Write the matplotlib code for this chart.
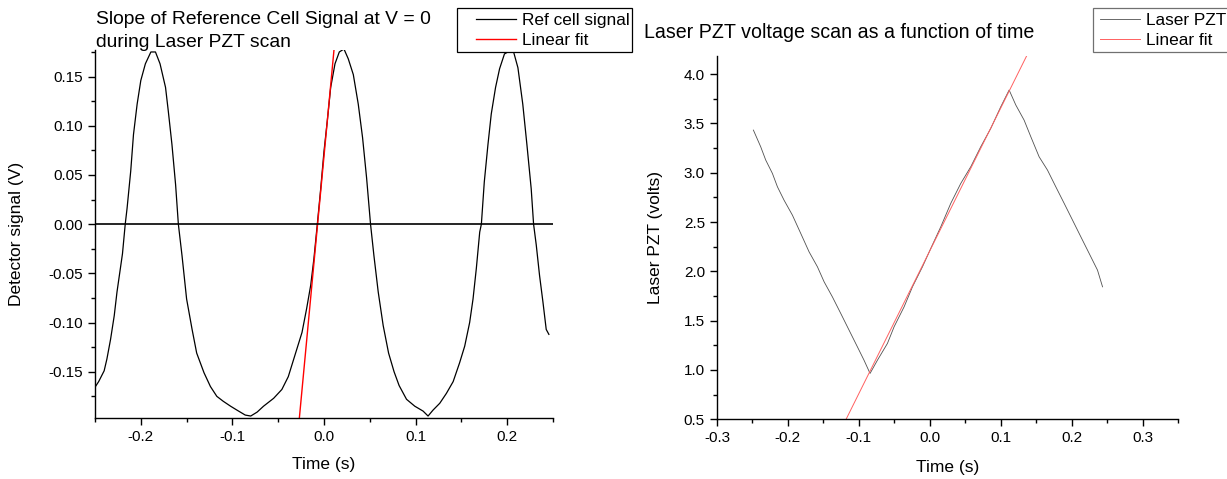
import matplotlib
matplotlib.use("Agg")
import matplotlib.pyplot as plt
from matplotlib.patches import Rectangle
from matplotlib.ticker import MultipleLocator

plt.rcParams['font.family'] = ['Liberation Sans', 'DejaVu Sans']

# reference cell signal
ref_t = [-0.2495, -0.246, -0.240, -0.237, -0.233, -0.229, -0.226, -0.220, -0.217, -0.215,
         -0.211, -0.208, -0.204, -0.200, -0.195, -0.189, -0.184, -0.179, -0.173, -0.170,
         -0.166, -0.162, -0.159, -0.155, -0.150, -0.144, -0.139, -0.131, -0.124, -0.117,
         -0.110, -0.102, -0.095, -0.086, -0.080, -0.073, -0.066, -0.055, -0.046, -0.039,
         -0.032, -0.024, -0.019, -0.0145, -0.011, -0.0073, -0.0036, 0.000, 0.0036, 0.0073,
         0.012, 0.0167, 0.0218, 0.0265, 0.032, 0.0374, 0.0421, 0.0465, 0.0508, 0.0545,
         0.0592, 0.0646, 0.0705, 0.0765, 0.082, 0.0901, 0.0991, 0.1082, 0.1136, 0.119,
         0.1264, 0.1336, 0.141, 0.148, 0.1536, 0.159, 0.1627, 0.1663, 0.1700, 0.1718,
         0.175, 0.179, 0.1826, 0.1873, 0.1917, 0.197, 0.2026, 0.207, 0.2117, 0.217,
         0.2215, 0.2262, 0.2288, 0.2317, 0.2353, 0.239, 0.2426, 0.2455]
ref_v = [-0.165, -0.160, -0.149, -0.137, -0.117, -0.093, -0.069, -0.030, 0.000, 0.016,
         0.054, 0.091, 0.122, 0.146, 0.163, 0.175, 0.175, 0.163, 0.139, 0.115,
         0.081, 0.040, 0.000, -0.032, -0.076, -0.107, -0.131, -0.151, -0.165, -0.175,
         -0.180, -0.185, -0.189, -0.194, -0.195, -0.191, -0.185, -0.177, -0.168, -0.155,
         -0.134, -0.110, -0.086, -0.062, -0.035, 0.000, 0.036, 0.074, 0.105, 0.139,
         0.163, 0.175, 0.178, 0.168, 0.152, 0.122, 0.088, 0.047, 0.000, -0.032,
         -0.069, -0.103, -0.131, -0.150, -0.164, -0.178, -0.185, -0.190, -0.195, -0.189,
         -0.182, -0.172, -0.160, -0.141, -0.124, -0.100, -0.076, -0.045, -0.008, 0.000,
         0.043, 0.081, 0.112, 0.139, 0.158, 0.173, 0.176, 0.175, 0.159, 0.122,
         0.081, 0.036, 0.000, -0.021, -0.052, -0.079, -0.107, -0.112]
ref_fit_t = [-0.0269, 0.0113]
ref_fit_v = [-0.197, 0.181]

# laser PZT voltage
pzt_t = [-0.2487, -0.2384, -0.2313, -0.2219, -0.2148, -0.2055, -0.1937, -0.1819, -0.1702, -0.1584,
         -0.1490, -0.1373, -0.1255, -0.1138, -0.1020, -0.0927, -0.0842, -0.0738, -0.0597, -0.0503,
         -0.0362, -0.0244, -0.0103, 0.0014, 0.0155, 0.0296, 0.0437, 0.0578, 0.0719, 0.0860,
         0.1001, 0.1119, 0.1213, 0.1330, 0.1425, 0.1542, 0.1660, 0.1777, 0.1895, 0.2013,
         0.2130, 0.2247, 0.2365, 0.2436]
pzt_v = [3.432, 3.263, 3.128, 2.993, 2.857, 2.722, 2.570, 2.384, 2.198, 2.046,
         1.894, 1.741, 1.573, 1.404, 1.234, 1.099, 0.965, 1.099, 1.269, 1.438,
         1.640, 1.843, 2.046, 2.232, 2.451, 2.689, 2.891, 3.060, 3.263, 3.449,
         3.668, 3.838, 3.686, 3.533, 3.364, 3.161, 3.026, 2.857, 2.689, 2.519,
         2.350, 2.182, 2.012, 1.843]
pzt_fit_t = [-0.118, 0.137]
pzt_fit_v = [0.5, 4.19]

W, H = 1227, 479
fig = plt.figure(figsize=(W / 100, H / 100), dpi=100)


def style(ax):
    for s in ('top', 'right'):
        ax.spines[s].set_visible(False)
    for s in ('left', 'bottom'):
        ax.spines[s].set_linewidth(1.0)
    ax.tick_params(which='major', direction='out', length=4.7, width=1.0, labelsize=11, pad=4)
    ax.tick_params(which='minor', direction='out', length=3.0, width=1.0)


def legend_box(ax, x0, x1, hx, edge):
    # frame drawn by hand so the padding matches the original
    fig.patches.append(Rectangle((x0 / W, 1 - 52 / H), (x1 - x0) / W, 44 / H,
                                 transform=fig.transFigure, fill=True, facecolor='white',
                                 edgecolor=edge, lw=0.9, zorder=5))
    leg = fig.legend(*ax.get_legend_handles_labels(), loc='upper left',
                     bbox_to_anchor=(hx / W, 1 - 12.5 / H), fontsize=12.4, frameon=False,
                     borderpad=0, labelspacing=0.3, handlelength=2.3, handletextpad=0.35,
                     borderaxespad=0)
    leg.set_zorder(6)


# left panel
ax1 = fig.add_axes([95 / W, 1 - 418 / H, 458 / W, 368 / H])
ax1.plot(ref_t, ref_v, color='black', lw=0.9, label='Ref cell signal')
ax1.plot(ref_fit_t, ref_fit_v, color='#ff0000', lw=1.0, label='Linear fit')
ax1.axhline(0, color='black', lw=1.2)
ax1.set_xlim(-0.25, 0.25)
ax1.set_ylim(-0.197, 0.177)
ax1.xaxis.set_major_locator(MultipleLocator(0.1))
ax1.xaxis.set_minor_locator(MultipleLocator(0.05))
ax1.yaxis.set_major_locator(MultipleLocator(0.05))
ax1.yaxis.set_minor_locator(MultipleLocator(0.025))
ax1.xaxis.set_major_formatter(plt.FuncFormatter(lambda v, p: '%.1f' % v))
ax1.yaxis.set_major_formatter(plt.FuncFormatter(lambda v, p: '%.2f' % v))
style(ax1)
ax1.set_xlabel('Time (s)', fontsize=12.5)
ax1.set_ylabel('Detector signal (V)', fontsize=12.5)
ax1.xaxis.set_label_coords(0.5, -0.105)
ax1.yaxis.set_label_coords(-0.155, 0.5)
fig.text(96 / W, 1 - 24 / H, 'Slope of Reference Cell Signal at V = 0',
         fontsize=13.9, ha='left', va='baseline')
fig.text(96 / W, 1 - 46.7 / H, 'during Laser PZT scan',
         fontsize=13.9, ha='left', va='baseline')
legend_box(ax1, 456.5, 632, 476, 'black')

# right panel
ax2 = fig.add_axes([717 / W, 1 - 419.3 / H, 461 / W, 363.6 / H])
ax2.plot(pzt_t, pzt_v, color='#505050', lw=0.6, label='Laser PZT')
ax2.plot(pzt_fit_t, pzt_fit_v, color='#ff6060', lw=0.7, label='Linear fit')
ax2.set_xlim(-0.3, 0.35)
ax2.set_ylim(0.5, 4.186)
ax2.xaxis.set_major_locator(MultipleLocator(0.1))
ax2.xaxis.set_minor_locator(MultipleLocator(0.05))
ax2.yaxis.set_major_locator(MultipleLocator(0.5))
ax2.yaxis.set_minor_locator(MultipleLocator(0.25))
ax2.xaxis.set_major_formatter(plt.FuncFormatter(lambda v, p: '%.1f' % v))
ax2.yaxis.set_major_formatter(plt.FuncFormatter(lambda v, p: '%.1f' % v))
style(ax2)
ax2.set_xlabel('Time (s)', fontsize=12.5)
ax2.set_ylabel('Laser PZT (volts)', fontsize=12.5)
ax2.xaxis.set_label_coords(0.5, -0.112)
ax2.yaxis.set_label_coords(-0.117, 0.5)
fig.text(644 / W, 1 - 32 / H, 'Laser PZT voltage scan as a function of time',
         fontsize=14.1, ha='left', va='center')
legend_box(ax2, 1093, 1232, 1100, '#707070')

fig.savefig('out.png', dpi=100)
